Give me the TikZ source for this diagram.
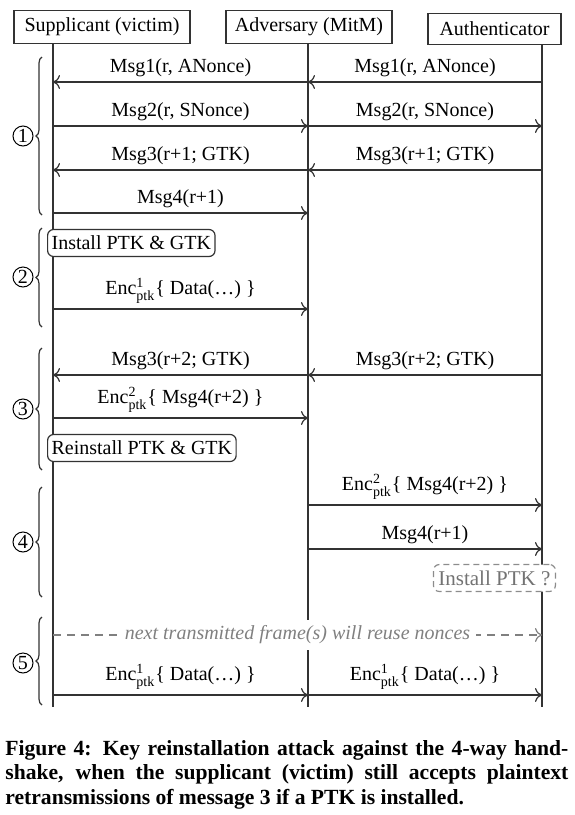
\documentclass[tikz,border=0pt]{standalone}
\usepackage{fontspec}
\usepackage{amsmath}
\setmainfont{Liberation Serif}
\usetikzlibrary{decorations.pathreplacing,arrows.meta}
\definecolor{ink}{HTML}{333333}
\begin{document}
\begin{tikzpicture}[x=0.5pt,y=-0.5pt,font=\fontsize{10}{12}\selectfont,
  actor/.style={draw=ink,line width=0.6pt,inner sep=2pt,minimum height=16.5pt},
  life/.style={draw=ink,line width=0.6pt},
  msg/.style={draw=ink,line width=0.6pt,-{To[length=3.5pt,width=7pt]}},
  dmsg/.style={draw=black!50,line width=0.6pt,dash pattern=on 4pt off 3pt,-{To[length=3.5pt,width=7pt]}},
  lbl/.style={above,inner sep=2.5pt},
  state/.style={draw=ink,line width=0.6pt,rounded corners=3pt,inner sep=2pt,fill=white,anchor=west,minimum height=13.5pt},
  gstate/.style={draw=black!45,text=black!55,dash pattern=on 3pt off 2pt,line width=0.6pt,rounded corners=3pt,inner sep=2.5pt,fill=white,anchor=east,minimum height=13.5pt,font=\fontsize{10.5}{12}\selectfont},
  brc/.style={draw=ink,line width=0.6pt,decorate,decoration={brace,amplitude=3pt}},
  phase/.style={circle,draw=black,line width=0.5pt,inner sep=0pt,minimum size=10pt,font=\fontsize{10}{10}\selectfont}]
\useasboundingbox (0,0) rectangle (574,815);
% actors
\node[actor,minimum width=88pt] (sup) at (102,27) {Supplicant (victim)};
\node[actor,minimum width=83pt] (adv) at (309,27) {Adversary (MitM)};
\node[actor,minimum width=66.5pt,minimum height=15.5pt] (aut) at (494.5,29) {Authenticator};
% lifelines
\coordinate (Stop) at (53,44); \coordinate (Sbot) at (53,707);
\coordinate (Atop) at (308,44); \coordinate (Abot) at (308,707);
\coordinate (Ttop) at (542,45); \coordinate (Tbot) at (542,707);
\draw[life] (Stop) -- (Sbot);
\draw[life] (Atop) -- (Abot);
\draw[life] (Ttop) -- (Tbot);
% rows
\foreach \n/\y in {1/82,2/126,3/170,4/213,5/309,6/375,7/418,8/505,9/549,10/635,11/695}{
  \coordinate (S\n) at (53,\y); \coordinate (A\n) at (308,\y); \coordinate (T\n) at (542,\y);}
% phase 1
\draw[msg] (T1) -- node[lbl]{Msg1(r, ANonce)} (A1);
\draw[msg] (A1) -- node[lbl]{Msg1(r, ANonce)} (S1);
\draw[msg] (S2) -- node[lbl]{Msg2(r, SNonce)} (A2);
\draw[msg] (A2) -- node[lbl]{Msg2(r, SNonce)} (T2);
\draw[msg] (T3) -- node[lbl]{Msg3(r+1; GTK)} (A3);
\draw[msg] (A3) -- node[lbl]{Msg3(r+1; GTK)} (S3);
\draw[msg] (S4) -- node[lbl]{Msg4(r+1)} (A4);
% phase 2
\node[state] (inst) at (47,243) {Install PTK \& GTK};
\draw[msg] (S5) -- node[lbl]{Enc$^{\text{1}}_{\text{ptk}}$\{ Data(\dots) \}} (A5);
% phase 3
\draw[msg] (T6) -- node[lbl]{Msg3(r+2; GTK)} (A6);
\draw[msg] (A6) -- node[lbl]{Msg3(r+2; GTK)} (S6);
\draw[msg] (S7) -- node[lbl]{Enc$^{\text{2}}_{\text{ptk}}$\{ Msg4(r+2) \}} (A7);
\node[state] (reinst) at (47,448) {Reinstall PTK \& GTK};
% phase 4
\draw[msg] (A8) -- node[lbl]{Enc$^{\text{2}}_{\text{ptk}}$\{ Msg4(r+2) \}} (T8);
\draw[msg] (A9) -- node[lbl]{Msg4(r+1)} (T9);
\node[gstate] (q) at (556,578) {Install PTK ?};
% phase 5
\draw[dmsg] (S10) -- node[fill=white,text=black!50,inner sep=3pt,font=\fontsize{10}{12}\selectfont\itshape]{next transmitted frame(s) will reuse nonces} (T10);
\draw[msg] (S11) -- node[lbl]{Enc$^{\text{1}}_{\text{ptk}}$\{ Data(\dots) \}} (A11);
\draw[msg] (A11) -- node[lbl]{Enc$^{\text{1}}_{\text{ptk}}$\{ Data(\dots) \}} (T11);
% braces
\draw[brc] (42,215) -- (42,57);
\draw[brc] (42,327) -- (42,228);
\draw[brc] (42,470) -- (42,348);
\draw[brc] (42,597) -- (42,487);
\draw[brc] (42,705) -- (42,617);
\node[phase] (p1) at (23,136) {1};
\node[phase] (p2) at (23,277) {2};
\node[phase] (p3) at (23,409) {3};
\node[phase] (p4) at (23,542) {4};
\node[phase] (p5) at (23,663) {5};
% caption
\node[anchor=north west,inner sep=0pt,text width=281.5pt,align=justify,font=\fontsize{10.8}{12.25}\selectfont\bfseries] (cap) at (5,740)
  {Figure 4: Key reinstallation attack against the 4-way hand-\linebreak shake, when the supplicant (victim) still accepts plaintext\linebreak retransmissions of message 3 if a PTK is installed.};
\end{tikzpicture}
\end{document}
